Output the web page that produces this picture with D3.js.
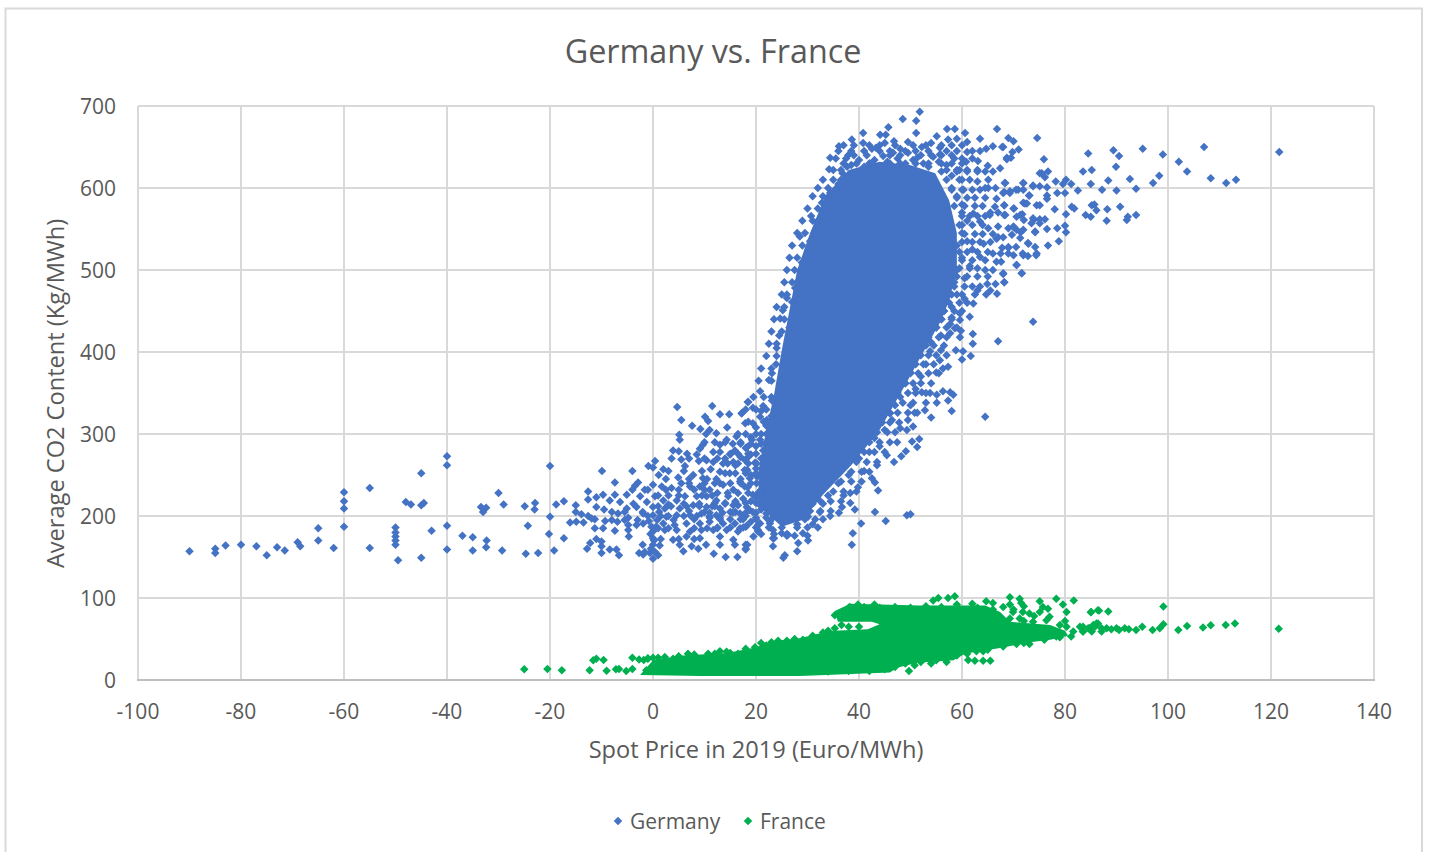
<!DOCTYPE html>
<html><head><meta charset="utf-8"><title>Germany vs. France</title>
<script src="https://cdn.jsdelivr.net/npm/d3@7/dist/d3.min.js"></script>
<style>html,body{margin:0;padding:0;background:#fff;overflow:hidden}svg{display:block}text{font-family:"Open Sans",sans-serif;fill:#595959}</style>
</head><body><svg id="c" width="1429" height="852"></svg>
<script>
const xTicks=[-100,-80,-60,-40,-20,0,20,40,60,80,100,120,140];
const yTicks=[0,100,200,300,400,500,600,700];
const seriesNames=["Germany","France"];
const seriesColors=["#4472C4","#00B050"];
const chartTitle="Germany vs. France";
const xTitle="Spot Price in 2019 (Euro/MWh)";
const yTitle="Average CO2 Content (Kg/MWh)";

// Germany: where the points overplot into solid colour, the outline of that region
const germanyCore=[[25,187],[20.5,213],[20.5,256],[22,305],[23.5,348],[25,402],[26.5,451],[28,500],[30.5,545],[33.5,591],[38,622],[44,632],[49.9,628],[54.8,618],[57.5,585],[59,545],[59,500],[57.5,463],[56,439],[52.5,400],[49,360],[44,305],[38.5,262],[33,226],[29,195]];
const germanyTail=[[-90,157],[-85,160],[-85,155],[-83,164],[-80,165],[-77,163],[-75,152],[-73,162],[-71.5,158],[-69,168],[-68.5,163],[-65,185],[-65,170],[-62,161],[-60,229],[-60,218],[-60,209],[-60,187],[-55,234],[-55,161],[-50,186],[-50,180],[-50,175],[-50,170],[-50,165],[-49.5,146],[-48,217],[-47,214],[-45,213],[-44.5,216],[-45,252],[-45,149],[-43,182],[-40,273],[-40,262],[-40,188],[-40,159],[-37,176],[-35,174],[-35,158],[-33,205],[-32.4,210],[-33.4,211],[-32.3,170],[-32.4,162],[-30,228],[-29,214],[-29.3,158],[-24.9,212],[-24.3,188],[-24.7,154],[-22.9,216],[-23,208],[-22.3,155],[-20,261],[-20,199],[-20.2,178],[-19.2,158],[-18.8,214],[-17.3,218],[-17.3,173]];
const germanyLow=[[4.7,333],[11.5,334],[18.5,339],[5.5,317],[13,324],[14.8,324],[17.2,325],[7.6,310],[10.1,321],[10.7,316],[9.2,306],[14.4,308],[11,305],[10.3,300],[12.3,301],[16.2,297],[5.1,299],[5.2,293],[14.3,293],[13,287],[9.7,287],[9.1,282],[11.7,278],[15.9,280],[3.9,280],[5,279],[6.6,276],[8.5,275],[3.6,270],[5.5,269],[.4,267],[-.9,261],[0,259],[2,257],[1.1,250],[-4,255],[-9.9,255],[6.2,261],[8.9,267],[10.4,268],[11.7,266],[13.6,264],[15.6,266],[18.2,270],[11.2,257],[7.8,250],[13,254],[14.9,252],[17.8,256],[20.1,264],[4.9,247],[9.7,246],[12.3,245],[16.9,242],[18.8,246],[21.4,252],[-7.4,241],[-2.9,241],[-3.5,237],[0,238],[1.7,236],[3.6,234],[5.5,240],[7.2,236],[9.1,236],[11,232],[13.6,238],[15.6,232],[17.8,236],[20.1,240],[22,244],[-12.6,230],[-1.6,232],[-11,223],[-9.7,226],[-12.6,220],[-7.4,226],[-5.1,226],[-2.5,224],[-6.4,217],[-8.4,219],[-3.8,215],[-1.2,217],[.4,224],[2,219],[4.6,219],[6.2,224],[8.5,224],[10.4,224],[12.3,219],[14.6,224],[17.5,221],[19.4,226],[22,224],[-15,213],[-11,211],[-9.5,208],[-5.1,209],[-3.2,211],[0,211],[2.3,209],[5.2,209],[7.8,213],[10.4,211],[13,209],[15.6,213],[18.2,211],[20.8,213],[-13.9,202],[-12.6,200],[-15,205],[-11.3,196],[-6.8,203],[-4.8,198],[-1.9,203],[0,201],[2.6,199],[4.6,201],[7.2,201],[9.4,203],[12.3,201],[16.5,213],[16.9,203],[19.4,205],[22,203],[-16.1,192],[-14.9,193],[-13.5,192],[-11.9,197],[-9.3,194],[-6.9,193],[-4.8,189],[-3.2,189],[-1.9,191],[-.3,187],[2,191],[4.2,189],[6.5,191],[9.1,191],[11,193],[13.6,191],[15.9,191],[18.2,188],[20.4,189],[22.7,193],[-11.3,185],[-9.7,185],[-7.4,182],[-4.8,183],[0,181],[2.3,183],[4.6,183],[7.2,181],[9.4,183],[11.7,183],[14.3,183],[16.5,181],[20.4,181],[23.3,183],[-4.7,175],[0,173],[3.9,171],[6.5,175],[9.1,173],[13,175],[15.6,171],[19.5,175],[23.3,173],[-11,172],[-12.2,167],[-10,169],[-12.8,160],[-10,163],[-8.4,159],[-7.1,159],[-6.6,152],[-10,155],[-2,165],[0,165],[1.3,164],[5.2,165],[7.5,163],[8.8,160],[10.3,165],[13,165],[18,165],[18,159],[15.9,165],[-2.7,155],[-1.6,156],[-.6,155],[0,148],[-1.9,153],[5.9,157],[11.8,154],[14.1,150],[16.4,150],[23.3,163],[.8,195],[1.2,205],[-.8,194],[-.5,178],[.6,187],[.2,170],[-.4,160],[1,152],[.4,156],[16,205],[17,196],[18,200],[19,193],[20,198],[21,208],[22,198],[23,208],[24,200],[25,205],[19,218],[20,222],[21,232],[22,236],[23,228],[21,218],[16,218],[14,215],[15,205],[12,212],[13,198],[11,198],[7,206],[8,196],[6,215],[3,214],[4,195],[9,215],[10,205],[17,245],[19,250],[20,258],[22,262],[23,270],[24,260],[21,270],[19,275],[17,272],[16,262],[15,275],[18,283],[20,285],[22,290],[24,282],[23,298],[21,300],[19,296],[17,290],[14,270],[13,278],[22,310],[20,308],[23,322],[21,328],[24,335]];
const germanyEdge=[[51.8,693],[48.5,684],[51.1,682],[45.7,674],[51.1,667],[40.8,667],[44.1,665],[45.2,665],[55.1,663],[57.1,672],[58.6,672],[60.6,667],[66.8,672],[63.5,660],[38.6,659],[40.8,655],[36.1,651],[45,655],[46.8,657],[49.5,656],[54,655],[57.3,659],[59,660],[61,656],[52.2,650],[42.5,648],[43.3,649],[48,648],[55.7,649],[63.5,645],[64.7,648],[66,651],[67.8,650],[61,644],[37.9,640],[34.4,637],[44.7,639],[49.5,643],[46.6,643],[55.7,641],[68.7,637],[63.1,633],[60.8,632],[65,627],[67.4,624],[34.2,623],[37.7,626],[42.1,630],[51.3,637],[54.4,638],[40,634],[38.5,628],[36.8,618],[41,626],[43,634],[45.5,632],[47.5,636],[49,630],[50.5,634],[52.5,630],[53.5,626],[55.5,632],[57,628],[58.5,636],[59.5,622],[56,620],[58,615],[60,610],[36,605],[38,612],[60.3,598],[63,608],[65.1,610],[65.1,600],[68.4,606],[71.9,606],[73.8,603],[75.1,618],[68,594],[69.3,596],[70.9,598],[73.1,591],[66.7,587],[66.4,577],[68.2,579],[70.1,575],[72.2,581],[74.5,579],[65.4,567],[68.4,567],[71.3,567],[73.9,561],[62.2,569],[63.5,559],[65.1,551],[67,553],[70,553],[71.9,549],[74.2,547],[64.2,532],[66.7,538],[69,528],[72.9,532],[74.5,520],[71.9,518],[63.5,516],[66.7,510],[70.6,506],[71.6,496],[68,496],[64.9,483],[66.5,483],[68.2,485],[64.7,470],[66.8,471],[62.2,459],[59.6,447],[61.5,443],[58,600],[59,590],[60,580],[60,570],[61,560],[59.5,555],[60,545],[61,535],[59,530],[62,525],[60,515],[61.5,505],[59,500],[60.5,490],[62,480],[58.5,485],[59,470],[60.5,465],[57.5,470],[58,455],[56.5,450],[56,440],[58,442],[55,430],[53,425],[54,412],[52,410],[51,395],[53,385],[55,375],[52,370],[50,375],[49,362],[51,355],[48,345],[47,335],[50,335],[46,325],[44,320],[45,305],[43,295],[44,285],[42,278],[40,270],[41,255],[38,250],[36,240],[37,225],[34,225],[33,215],[31,215],[29,210],[27,205],[28,190],[31,190],[67,413],[64.5,321],[62.1,422],[62.1,410],[61.7,395],[60.2,401],[60,391],[58.8,402],[59.6,418],[59.8,426],[58.6,429],[57.7,423],[57.7,434],[59.6,439],[55.9,420],[55.9,402],[53.8,401],[57,396],[55.7,390],[57.3,382],[56.3,380],[58,328],[54,320],[58.3,348],[57.7,351],[56.3,352],[57.3,341],[55.1,348],[55.1,338],[53.8,350],[52.2,351],[52.8,329],[51.3,326],[49.5,317],[50.5,309],[49.3,305],[51.7,294],[50.3,291],[51.3,284],[49.1,279],[48.2,273],[46.8,266],[48,307],[46.4,317],[47.4,290],[45.4,274],[43.5,262],[42.5,246],[43.1,241],[43.7,231],[39.8,235],[38.3,228],[39.2,208],[38.3,216],[36.7,211],[36.1,204],[43.1,205],[40.4,191],[45.2,194],[49.3,201],[50,202],[38.8,179],[38.6,165],[34.4,200],[32.4,205],[30.1,199],[29.1,179],[30.1,170],[28.2,167],[28,157],[25.6,152],[25.3,149],[23.5,173],[26.2,177],[25,179],[20.4,183],[18,187],[16.9,185],[18.3,165],[18,160],[24,405],[23.1,374],[23.9,385],[22.5,366],[20.8,352],[18.4,339],[17.3,326],[19.4,332],[21.4,334],[23.1,341],[17.9,313],[19.4,313],[20.8,321],[22.1,317],[18.3,284],[17.9,268],[19.8,265],[18.3,256],[20.2,248],[20.8,293],[19.2,293],[21.4,280],[18.4,235],[20.4,228],[18.8,207],[20.8,191],[22.7,191],[30.7,566],[28.5,541],[32.8,582],[34.4,594],[27.6,478],[26,466],[25.2,451],[27,461],[24.7,441],[28.9,509],[29.9,512],[29.1,500],[30.1,524],[26.5,430],[24.5,420],[27,410],[28,485],[30.5,535],[32,560],[33.5,575],[35.5,598]];
const germanyRight=[[74.6,661],[69,661],[70,657],[68,650],[71,647],[69.8,644],[84.5,642],[89.4,646],[90.5,639],[95.1,648],[99,641],[107,650],[102.1,632],[103.7,620],[108.3,612],[111.3,606],[113.2,610],[121.6,644],[89.9,626],[83.5,620],[85.2,622],[75.9,635],[68.7,635],[69.5,637],[75.5,618],[76.7,620],[76.1,613],[78.2,608],[80.2,610],[79.6,605],[81.2,605],[85,605],[88.4,609],[92.6,611],[97.1,606],[98.3,615],[93.8,599],[90,597],[87.2,598],[82.5,597],[80,594],[78.5,594],[76.5,601],[75.1,602],[73.8,602],[71.9,606],[68.3,606],[70.5,598],[71.9,598],[69.3,594],[68.2,595],[73,591],[76.5,591],[76.5,587],[75.1,579],[71.9,582],[72.6,581],[68.2,579],[70,575],[78,574],[81.3,577],[81.8,575],[80.2,568],[85.2,579],[85.7,580],[86.1,573],[88.2,574],[90.7,577],[84,567],[85,565],[88.1,560],[93.8,567],[92.2,565],[92,561],[71.7,568],[70.6,565],[68.2,567],[72,561],[73.8,563],[73.5,557],[75.1,562],[76.1,562],[75.1,557],[80,554],[78.5,551],[76.5,550],[80.2,546],[70,552],[69,551],[70.6,549],[71.4,546],[69.7,543],[71.3,539],[74.2,546],[72.8,533],[76.7,530],[78.8,535],[74.2,528],[74.4,518],[70.5,528],[69,527],[67.8,527],[70,518],[71.8,520],[72.8,517],[70.6,506],[67.6,510],[71.6,496],[68,495],[68.2,485],[73.8,437]];
// Germany: heavily overlapped fringe read as rows: [CO2 level, prices on that level]
const germanyFringeRows=[[652,[37,39,42,44,47,50.5,53,56,58,60]],[645,[36,38.5,41,44,46,49,51,53.5,57,59,62]],[640,[39,41.5,46,48,52,54,56,58]],[636,[35.5,37.5,60,62]],[630,[37,39.5,42,46,48,51,53.5,56,58,60]],[622,[35,36.5,57,59,61,63]],[620,[59,61,63,64.5,66]],[610,[33,35,36.5,57,59.5,61.5]],[600,[32,34,64.5,66.5]],[598,[58,60,62,63.5]],[590,[31,33]],[588,[59,61,62.5,64.5]],[578,[58.5,60.5,62.5,64]],[575,[30,32]],[570,[65.5,67]],[566,[60,61.5,63,64.5]],[560,[29,31]],[555,[60,62,64]],[545,[28,29.5]],[544,[60.5,62.5,64,66]],[540,[67,68]],[534,[60,62,63.5,65.5]],[530,[27,29]],[522,[59.5,61,63,65]],[520,[66,67.5,69]],[515,[26.5,28]],[512,[60,62,64.5]],[502,[59.5,61.5,63]],[500,[26,27.5,64.5,66]],[492,[59,61,63,65]],[485,[25.5,27]],[480,[58.5,60.5,63.5]],[475,[63,65.5]],[470,[25,26,58,60,62.5]],[460,[57.5,59.5,61]],[455,[24,25.5]],[450,[56.5,58.5,60]],[440,[23.5,25.5,56,58]],[430,[55,57,59]],[425,[23,25]],[418,[53.5,55.5,57]],[410,[22.5,24]],[408,[53,54.5,56.5]],[396,[52,53.5,55]],[395,[22,24]],[385,[51,52.5,54.5]],[380,[21,23]],[374,[50,51.5,53.5,55.5]],[365,[20.5,23]],[362,[49,50.5,52,54]],[350,[47.5,49.5,51,53]],[345,[19.5,21.5,23]],[338,[46.5,48.5,50.5,53]],[330,[18,20,22]],[326,[46,47.5,49.5,50.8]],[315,[18.5,21.5,23]],[314,[44.5,46,47.8]],[302,[43.5,45.5,47]],[300,[16.5,18,20,22]],[290,[10,12,14,42,44,46]],[288,[15.5,17,19,21,23]],[278,[41,43,45]],[276,[15,16.5,18.5,20,22]],[270,[7,10,12.5]],[266,[39.5,41.5,43.5]],[264,[14.5,16.5,18.5,20]],[255,[3,6,9.5]],[254,[38.5,40.5,42]],[252,[14,16,18,20]],[245,[2.5,7,10.5]],[242,[36.5,38.5,40.5]],[240,[13,15,17,19,21,7,10,12]],[232,[-4,-1,2.5,5,8,10]],[230,[35,37,39.5]],[228,[12.5,14.5,16.5,18.5,21]],[225,[1,3,5,9.5,11.5]],[218,[32.5,34.5,36.5]],[216,[12,14,16,18,20]],[212,[1,3.5,6.5,9,11.5]],[206,[30.5,32.5,34.5]],[205,[-8,-5.5,-2]],[204,[11,13.5,15.5,18,20,23]],[200,[-1,1.5,3,6,8.5,11]],[196,[13,15,17.5,20,23,29.5,31.5,33]],[195,[-3,-5.5,-8]],[186,[12.5,15,17.5,20,22.5,25,28,30,32]],[185,[1,3,8,10.5,12.5]],[178,[21,23.5,26]],[176,[26,27.5,30]],[172,[1.5,5,8]]];

// France
const franceCore=[[-2.5,6],[0,24],[5.8,30],[14.4,33],[19.4,39],[24,48],[28.5,51],[31.8,56],[35,60],[41.7,62],[44,68],[42.5,71],[35.9,71],[35.3,84],[38.3,93],[51.8,91],[64.5,91],[67.4,83],[69.3,71],[77.1,67],[80,60],[80.6,54],[77.1,49],[73.2,46],[67.4,39],[62.5,34],[60.6,32],[58.3,24],[51.3,21],[47.4,15],[46,9],[28.5,5],[9.1,5]];
const franceLeft=[[-25,13],[-20.5,13.5],[-17.7,12],[-12.3,12],[-11.6,24],[-11,26],[-9.6,24.4],[-9,11.4],[-7.2,13],[-6.6,13.5],[-5.2,11],[-4,13.5],[-4,27],[-2.7,25],[-1.8,24.5],[-1,26.5],[-1.3,12],[0,27],[2.3,28],[3.9,26],[6.8,32],[10.7,32],[14.3,34.6],[16.5,32],[19.8,40],[21,45],[24.3,48],[27.5,50],[29.1,49]];
const franceBand=[[78.3,99],[81.7,97],[69.3,101],[71.2,99],[71.5,94],[75.1,96],[79.6,92],[80.3,83],[85.1,83],[86.4,85],[58.6,102],[57.3,100],[55.4,100],[54.4,97],[64.7,96],[66,94],[68,89],[69.3,92],[69.9,83],[71.8,83],[75.7,89],[76.7,87],[75.1,83],[73.1,81],[76.4,73],[69.3,75],[71.2,75],[73.8,71],[67.6,75],[79,67],[80.3,65],[81.6,59],[81.2,53],[83.5,65],[83.5,59],[84.8,63],[85.8,65],[86.4,69],[78.3,53],[73.1,44],[70.6,44],[62.8,35],[64.1,35],[61.2,24.4],[62.5,23.6],[64.1,23.6],[65.5,23.6],[58.3,29],[57,22],[54,20],[50.8,18],[49.7,11],[35.3,63],[36.6,67],[35.3,79],[36.6,77],[38.2,89],[39.8,92],[43,92],[38,88],[41,89],[44,88],[47,89],[50,88],[53,90],[56,89],[59,92],[62,93]];
const franceRight=[[85,82.6],[86.6,84.6],[88.4,83.4],[99.1,89.5],[82.9,65],[83.5,59],[85.2,59],[84.5,63],[85.5,67],[86.1,69],[87.1,59],[87.1,63],[88.1,63],[89,62],[90,63],[90.5,61],[91.6,63],[92.4,62],[93.8,61],[95,65],[97,61],[98.4,63],[99.1,68],[102,61],[103.7,66],[106.8,64],[108.3,66.7],[111.2,67],[113,69],[121.5,62.6]];
const franceEdge=[[-1,26],[1,27],[5,29],[8,31],[12,32],[13,35],[15,33],[18,38],[22,42],[23,46],[26,48],[31,54],[33,58],[34,60],[38,65],[40,65],[-.5,12],[1,12],[3,12],[5,11.5],[8,11],[11,11.5],[14,11],[18,10.5],[22,11],[26,10.5],[30,11],[34,10.5],[38,11],[42,11],[45,13],[47,16],[49,20],[52,22],[55,24],[59,30],[61,32],[65,37],[68,41],[72,45],[76,49],[79,52],[72,72],[74,78],[77,77],[70,86],[66,86],[63,88],[72,90],[80,72]];

const svg=d3.select("#c");
const x=d3.scaleLinear().domain([-100,140]).range([138,1374]);
const y=d3.scaleLinear().domain([0,700]).range([680,106]);
const grid="#d9d9d9";

svg.append("path").attr("d","M5.5,860V8.5H1422V860").attr("fill","none").attr("stroke",grid).attr("stroke-width",2);

const g=svg.append("g").attr("stroke",grid).attr("stroke-width",2);
g.selectAll(".gx").data(xTicks).join("line").attr("x1",d=>x(d)).attr("x2",d=>x(d)).attr("y1",y(700)).attr("y2",y(0));
g.selectAll(".gy").data(yTicks.filter(d=>d>0)).join("line").attr("x1",x(-100)).attr("x2",x(140)).attr("y1",d=>y(d)).attr("y2",d=>y(d));
svg.append("line").attr("x1",x(-100)-1).attr("x2",x(140)+1).attr("y1",y(0)).attr("y2",y(0)).attr("stroke","#bfbfbf").attr("stroke-width",2);

const marker=d3.symbol().type(d3.symbolDiamond2).size(46);
const area=d3.line().x(d=>x(d[0])).y(d=>y(d[1])).curve(d3.curveLinearClosed);
function series(core,lists,color){
  const s=svg.append("g").attr("fill",color);
  s.append("path").attr("d",area(core));
  s.selectAll("path.p").data(lists.flat()).join(enter=>enter.append("path").attr("class","p"))
    .attr("d",marker).attr("transform",d=>`translate(${x(d[0])},${y(d[1])})`);
}
const germanyFringe=germanyFringeRows.flatMap(([v,xs])=>xs.map(p=>[p,v]));
series(germanyCore,[germanyTail,germanyLow,germanyEdge,germanyRight,germanyFringe],seriesColors[0]);
series(franceCore,[franceLeft,franceBand,franceRight,franceEdge],seriesColors[1]);

const tick=svg.append("g").attr("font-size",21);
tick.selectAll(".xl").data(xTicks).join("text").attr("x",d=>x(d)).attr("y",719).attr("text-anchor","middle").text(d=>d);
tick.selectAll(".yl").data(yTicks).join("text").attr("x",116).attr("y",d=>y(d)+8).attr("text-anchor","end").text(d=>d);

svg.append("text").attr("x",713).attr("y",63).attr("text-anchor","middle").attr("font-size",32.3).text(chartTitle);
svg.append("text").attr("x",756).attr("y",758).attr("text-anchor","middle").attr("font-size",23.6).text(xTitle);
svg.append("text").attr("transform","translate(64,393.5) rotate(-90)").attr("text-anchor","middle").attr("font-size",23.6).text(yTitle);

const lg=svg.append("g");
[[618,630],[748,760]].forEach((p,i)=>{
  lg.append("path").attr("d",marker).attr("transform",`translate(${p[0]},821)`).attr("fill",seriesColors[i]);
  lg.append("text").attr("x",p[1]).attr("y",829).attr("font-size",21).text(seriesNames[i]);
});
</script></body></html>
